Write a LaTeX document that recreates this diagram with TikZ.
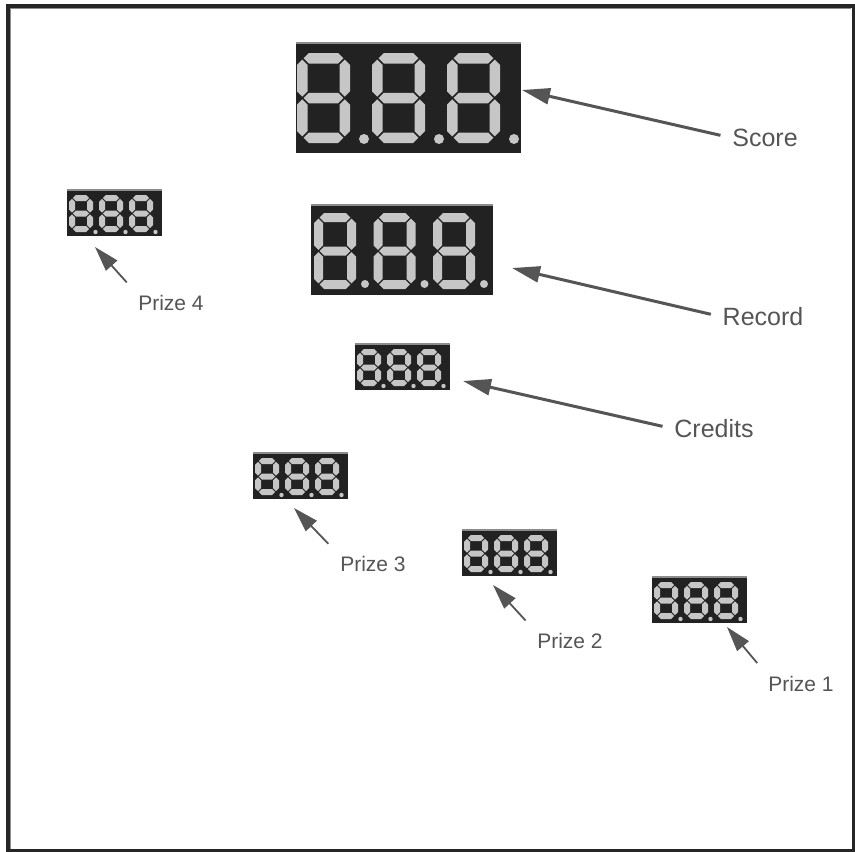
\documentclass[tikz,border=0pt]{standalone}
\usepackage{fontspec}
\setmainfont{Liberation Sans}
\usetikzlibrary{arrows.meta}
\definecolor{dispbg}{HTML}{222222}
\definecolor{segc}{HTML}{C6C6C6}
\definecolor{arrc}{HTML}{555555}
\definecolor{framec}{HTML}{262626}
\definecolor{edgec}{HTML}{8C8C8C}

% horizontal segment: a b y half gap
\newcommand\hsegm[5]{%
 \fill[segc] ({#1+#5},{#3}) -- ({#1+#5+#4},{#3-#4}) -- ({#2-#5-#4},{#3-#4}) -- ({#2-#5},{#3}) -- ({#2-#5-#4},{#3+#4}) -- ({#1+#5+#4},{#3+#4}) -- cycle;}
% vertical segment: x a b half gap
\newcommand\vsegm[5]{%
 \fill[segc] ({#1},{#2+#5}) -- ({#1+#4},{#2+#5+#4}) -- ({#1+#4},{#3-#5-#4}) -- ({#1},{#3-#5}) -- ({#1-#4},{#3-#5-#4}) -- ({#1-#4},{#2+#5+#4}) -- cycle;}
% digit 8: x y w h t
\newcommand\eightdig[5]{%
 \pgfmathsetmacro\sgHalf{#5/2}\pgfmathsetmacro\sgGap{#5*0.13}%
 \pgfmathsetmacro\sgXl{#1+\sgHalf}\pgfmathsetmacro\sgXr{#1+#3-\sgHalf}%
 \pgfmathsetmacro\sgYt{#2+\sgHalf}\pgfmathsetmacro\sgYm{#2+#4/2}\pgfmathsetmacro\sgYb{#2+#4-\sgHalf}%
 \hsegm{\sgXl}{\sgXr}{\sgYt}{\sgHalf}{\sgGap}%
 \hsegm{\sgXl}{\sgXr}{\sgYm}{\sgHalf}{\sgGap}%
 \hsegm{\sgXl}{\sgXr}{\sgYb}{\sgHalf}{\sgGap}%
 \vsegm{\sgXl}{\sgYt}{\sgYm}{\sgHalf}{\sgGap}%
 \vsegm{\sgXr}{\sgYt}{\sgYm}{\sgHalf}{\sgGap}%
 \vsegm{\sgXl}{\sgYm}{\sgYb}{\sgHalf}{\sgGap}%
 \vsegm{\sgXr}{\sgYm}{\sgYb}{\sgHalf}{\sgGap}%
}
% three digits with points: x0 y0 pitch w h t dpx dpy r
\newcommand\threedig[9]{%
 \foreach \k in {0,1,2}{%
  \eightdig{#1+\k*#3}{#2}{#4}{#5}{#6}%
  \fill[segc] ({#1+\k*#3+#7},{#2+#8}) circle[radius=#9pt];%
 }%
}
\newcommand\smalldisp[3]{%
 \node[dispbox, minimum width=95pt, minimum height=46pt] (#1) at (#2,#3) {};
 \draw[topedge] (#1.north west) -- (#1.north east);
 \threedig{#2+2}{#3+5}{30}{24}{37}{6}{26.5}{37}{2.2}%
}

\begin{document}
\begin{tikzpicture}[x=1pt,y=-1pt,
  dispbox/.style={fill=dispbg, inner sep=0pt, outer sep=0pt, anchor=north west},
  topedge/.style={draw=edgec, line width=1.2pt},
  lbl/.style={text=arrc, inner sep=0pt, font=\fontsize{25}{30}\selectfont},
  plbl/.style={text=arrc, inner sep=0pt, font=\fontsize{21}{25}\selectfont},
  mainarr/.style={draw=arrc, line width=3pt, -{Triangle[length=28pt,width=16pt]}, shorten <=12pt},
  prizearr/.style={draw=arrc, line width=1.8pt, -{Triangle[length=25pt,width=15pt]}, shorten <=17pt}]
\useasboundingbox (0,0) rectangle (855,852);
\fill[white] (0,0) rectangle (855,852);
% frame
\draw[framec, line width=4pt] (7.5,6) rectangle (853.5,851);
\draw[edgec, line width=1pt] (10,849) -- (10,8.8) -- (851,8.8);

% Score display
\node[dispbox, minimum width=225pt, minimum height=110pt] (score) at (296,43) {};
\draw[topedge] (score.north west) -- (score.north east);
\threedig{297}{53}{75}{53}{90}{10.5}{67}{86}{5}

% Record display
\node[dispbox, minimum width=182pt, minimum height=90pt] (record) at (311,205) {};
\draw[topedge] (record.north west) -- (record.north east);
\threedig{314}{213}{59.5}{42}{76}{9}{51}{71}{4}

% small displays
\smalldisp{credits}{355}{344}
\smalldisp{prizefour}{67}{190}
\smalldisp{prizethree}{253}{453}
\smalldisp{prizetwo}{462}{530}
\smalldisp{prizeone}{652}{577}

% labels
\node[lbl] (lscore) at (765,138) {Score};
\node[lbl] (lrecord) at (763,317) {Record};
\node[lbl] (lcredits) at (714,429) {Credits};
\node[plbl] (lp4) at (171,303) {Prize 4};
\node[plbl] (lp3) at (373,564) {Prize 3};
\node[plbl] (lp2) at (570,641) {Prize 2};
\node[plbl] (lp1) at (801,684) {Prize 1};

% arrow tips
\coordinate (tscore) at (522,90);
\coordinate (trecord) at (512,268);
\coordinate (tcredits) at (463,381);
\coordinate (tp4) at (95,247);
\coordinate (tp3) at (294,508);
\coordinate (tp2) at (493,585);
\coordinate (tp1) at (727,627);

\draw[mainarr] (lscore.west) -- (tscore);
\draw[mainarr] (lrecord.west) -- (trecord);
\draw[mainarr] (lcredits.west) -- (tcredits);
\draw[prizearr] (lp4.north west) -- (tp4);
\draw[prizearr] (lp3.north west) -- (tp3);
\draw[prizearr] (lp2.north west) -- (tp2);
\draw[prizearr] (lp1.north west) -- (tp1);
\end{tikzpicture}
\end{document}
